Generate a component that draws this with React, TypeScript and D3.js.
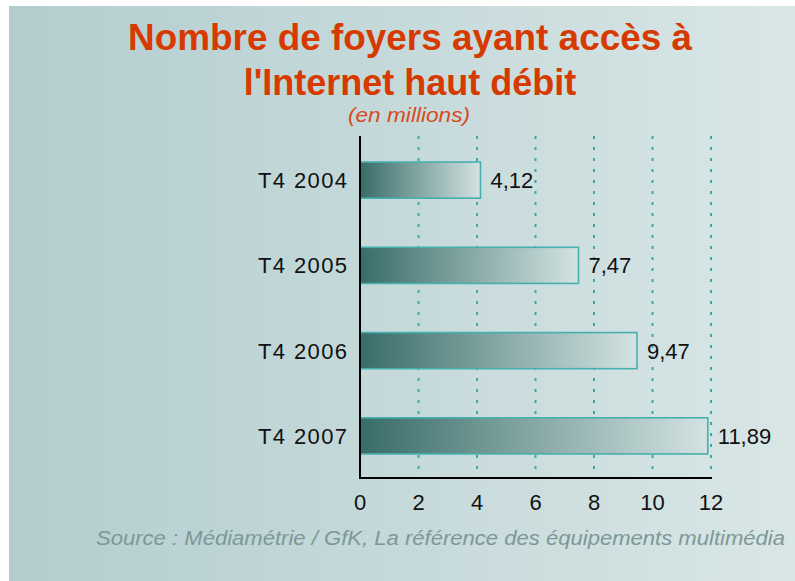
import React from "react";
import * as d3 from "d3";

const categories = ["T4 2004", "T4 2005", "T4 2006", "T4 2007"];
const values = [4.12, 7.47, 9.47, 11.89];
const valueLabels = ["4,12", "7,47", "9,47", "11,89"];
const xTicks = [0, 2, 4, 6, 8, 10, 12];
const titleLines = ["Nombre de foyers ayant accès à", "l'Internet haut débit"];
const subtitle = "(en millions)";
const source = "Source : Médiamétrie / GfK, La référence des équipements multimédia";

const W = 795;
const H = 581;

export default function App() {
  const x = d3.scaleLinear().domain([0, 12]).range([360, 711]);
  const y = d3
    .scaleBand<string>()
    .domain(categories)
    .range([137.5, 478.5])
    .paddingInner(0.576)
    .paddingOuter(0.288);
  const font = "'Liberation Sans', Arial, sans-serif";
  const axisTop = 136;
  const axisY = 478;

  return (
    <svg
      width={W}
      height={H}
      style={{ position: "absolute", left: 0, top: 0 }}
      xmlns="http://www.w3.org/2000/svg"
    >
      <defs>
        <linearGradient id="bg" x1="0" x2="1" y1="0" y2="0">
          <stop offset="0" stopColor="#b3cdcf" />
          <stop offset="1" stopColor="#d9e6e6" />
        </linearGradient>
        <linearGradient id="bar" x1="0" x2="1" y1="0" y2="0">
          <stop offset="0" stopColor="#386c68" />
          <stop offset="1" stopColor="#d3e3e2" />
        </linearGradient>
      </defs>
      <rect x={0} y={0} width={W} height={H} fill="#ffffff" />
      <rect x={9} y={6} width={W - 9} height={H - 6} fill="url(#bg)" />

      <g fontFamily={font} fontWeight="bold" fill="#d63a00" fontSize={36} textAnchor="middle">
        <text x={410} y={50} textLength={564} lengthAdjust="spacingAndGlyphs">
          {titleLines[0]}
        </text>
        <text x={410} y={95}>{titleLines[1]}</text>
      </g>
      <text
        x={348}
        y={122}
        fontFamily={font}
        fontStyle="italic"
        fontSize={20}
        fill="#d84a1c"
        textLength={122}
        lengthAdjust="spacingAndGlyphs"
      >
        {subtitle}
      </text>

      {xTicks.slice(1).map((t) => (
        <line
          key={"g" + t}
          x1={x(t)}
          x2={x(t)}
          y1={axisTop}
          y2={axisY}
          stroke="#3aaaa8"
          strokeWidth={2}
          strokeDasharray="3,8"
        />
      ))}

      {categories.map((c, i) => {
        const by = y(c)!;
        const bh = y.bandwidth();
        return (
          <g key={c}>
            <rect
              x={x(0)}
              y={by}
              width={x(values[i]) - x(0)}
              height={bh}
              fill="url(#bar)"
              stroke="#46b0ae"
              strokeWidth={1.6}
            />
            <text
              x={x(values[i]) + 10}
              y={by + bh / 2 + 8}
              fontFamily={font}
              fontSize={22}
              fill="#111"
            >
              {valueLabels[i]}
            </text>
            <text
              x={347}
              y={by + bh / 2 + 8}
              fontFamily={font}
              fontSize={22}
              fill="#111"
              textAnchor="end"
              textLength={89}
              lengthAdjust="spacing"
            >
              {c}
            </text>
          </g>
        );
      })}

      <line x1={x(0)} x2={x(0)} y1={axisTop} y2={axisY + 1} stroke="#000" strokeWidth={2} />
      <line x1={x(0) - 1} x2={x(12) + 1} y1={axisY} y2={axisY} stroke="#000" strokeWidth={2} />

      {xTicks.map((t) => (
        <text
          key={"t" + t}
          x={x(t)}
          y={510}
          fontFamily={font}
          fontSize={22}
          fill="#111"
          textAnchor="middle"
        >
          {t}
        </text>
      ))}

      <text
        x={96}
        y={545}
        fontFamily={font}
        fontStyle="italic"
        fontSize={20}
        fill="#7d9898"
        textLength={689}
        lengthAdjust="spacingAndGlyphs"
      >
        {source}
      </text>
    </svg>
  );
}
